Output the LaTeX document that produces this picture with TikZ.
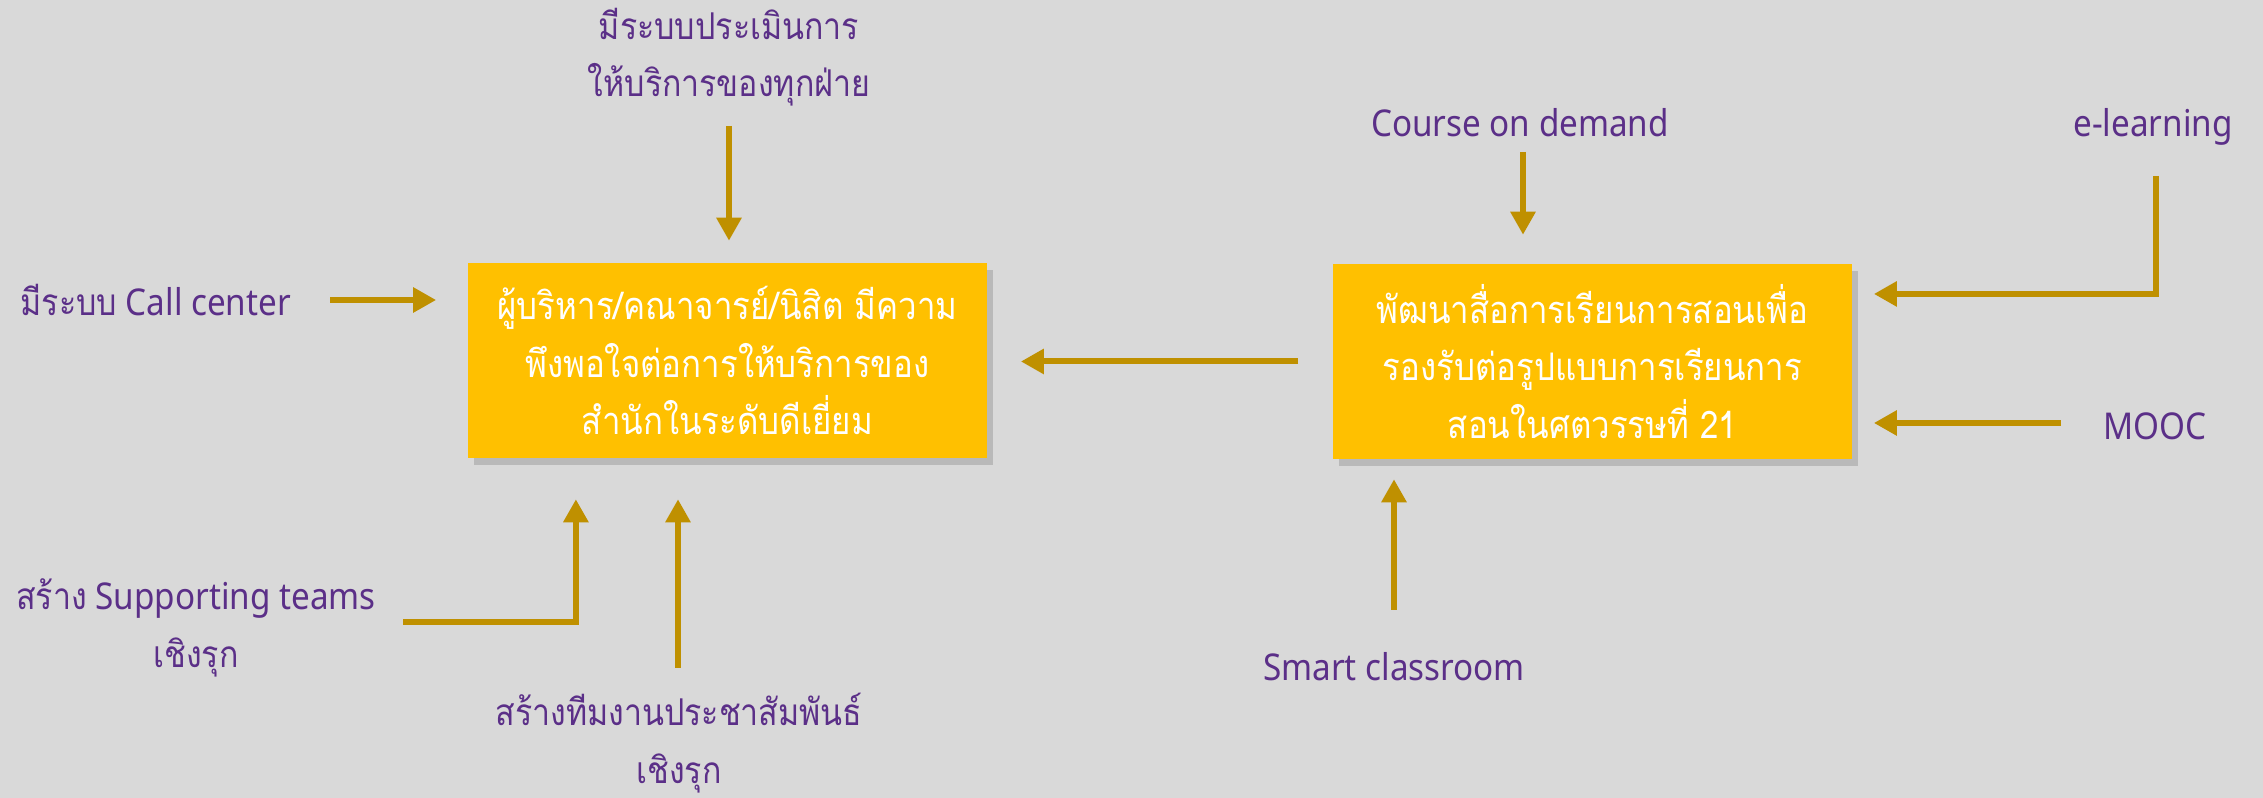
\documentclass[tikz,border=0pt]{standalone}
\usepackage{fontspec}
\setmainfont{Noto Sans}[FakeStretch=0.9]
\newfontfamily\thai[Script=Thai,FakeStretch=0.87]{Loma}
\usetikzlibrary{arrows.meta,shadows}
\definecolor{bg}{HTML}{D9D9D9}
\definecolor{gold}{HTML}{BF9000}
\definecolor{amber}{HTML}{FFC000}
\definecolor{plum}{HTML}{5B2F88}
\tikzset{
  goal/.style={fill=amber, text=white, minimum width=5.19cm, minimum height=1.94cm,
    align=center, font=\thai\fontsize{10.8}{16.3}\selectfont,
    drop shadow={shadow xshift=.06cm, shadow yshift=-.07cm, opacity=.35}},
  lbl/.style={text=plum, align=center, inner sep=0pt, font=\fontsize{10.5}{16.3}\selectfont},
  thlbl/.style={lbl, font=\thai\fontsize{10.5}{16.3}\selectfont},
  link/.style={draw=gold, line width=.06cm, -{Triangle[length=.23cm,width=.24cm]}},
}
\begin{document}
\begin{tikzpicture}[x=.01cm,y=-.01cm]
\fill[bg] (0,0) rectangle (2263,798);
\useasboundingbox (0,0) rectangle (2263,798);

\node[goal] (serv)  at (727.5,360.5) {ผู้บริหาร/คณาจารย์/นิสิต มีความ\\พึงพอใจต่อการให้บริการของ\\สำนักในระดับดีเยี่ยม};
\node[goal] (media) at (1592.5,361.5) {พัฒนาสื่อการเรียนการสอนเพื่อ\\รองรับต่อรูปแบบการเรียนการ\\สอนในศตวรรษที่ 21};

\node[thlbl]           (evalsys) at (729,57)   {มีระบบประเมินการ\\ให้บริการของทุกฝ่าย};
\node[lbl,anchor=west] (callc)   at (20,300)   {{\thai มีระบบ} Call center};
\node[lbl]             (supteam) at (196,628)  {{\thai สร้าง} Supporting teams\\{\thai เชิงรุก}};
\node[thlbl]           (prteam)  at (679,743)  {สร้างทีมงานประชาสัมพันธ์\\เชิงรุก};
\node[lbl]             (cod)     at (1520,123) {Course on demand};
\node[lbl]             (elearn)  at (2153,127) {e-learning};
\node[lbl]             (mooc)    at (2155,426) {MOOC};
\node[lbl]             (smartc)  at (1394,667) {Smart classroom};

\coordinate (evalsys-out) at (729,126);
\coordinate (callc-out)   at (330,300);
\coordinate (supteam-out) at (403,622);
\coordinate (prteam-out)  at (678,668);
\coordinate (cod-out)     at (1523,152);
\coordinate (elearn-out)  at (2156,176);
\coordinate (mooc-out)    at (2061,423);
\coordinate (smartc-out)  at (1394,610);

\draw[link, shorten >=.22cm] (evalsys-out) -- (evalsys-out |- serv.north);
\draw[link, shorten >=.31cm] (callc-out) -- (callc-out -| serv.west);
\draw[link, shorten >=.41cm] (supteam-out) -| ([xshift=-1.515cm]serv.south);
\draw[link, shorten >=.41cm] (prteam-out) -- (prteam-out |- serv.south);
\draw[link, shorten <=.34cm, shorten >=.33cm] (media.west) -- (media.west -| serv.east);
\draw[link, shorten >=.29cm] (cod-out) -- (cod-out |- media.north);
\draw[link, shorten >=.21cm] (elearn-out) |- ([yshift=.675cm]media.east);
\draw[link, shorten >=.21cm] (mooc-out) -- (mooc-out -| media.east);
\draw[link, shorten >=.2cm] (smartc-out) -- (smartc-out |- media.south);
\end{tikzpicture}
\end{document}
